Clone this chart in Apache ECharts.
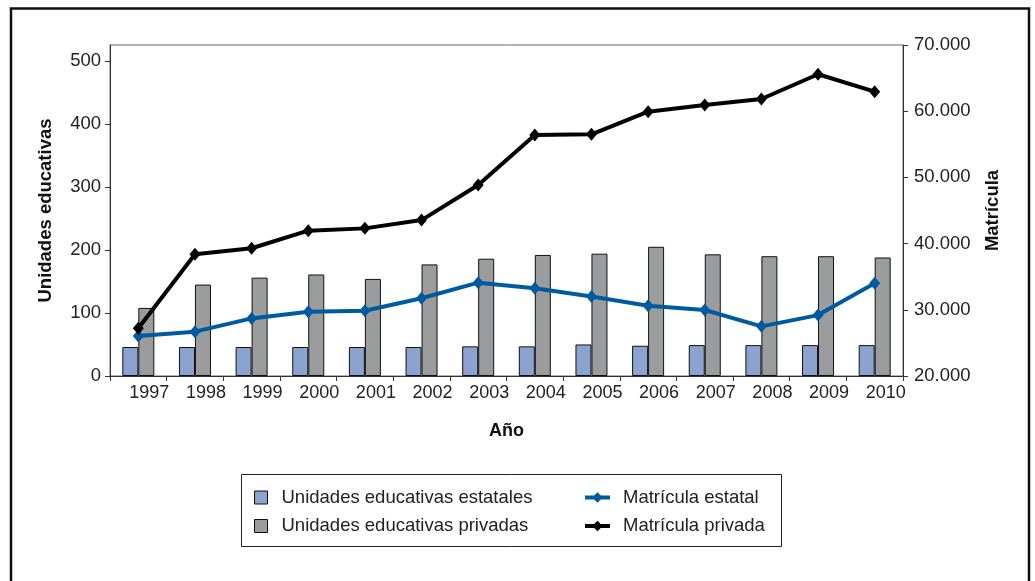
<!DOCTYPE html>
<html>
<head>
<meta charset="utf-8">
<script src="https://cdn.jsdelivr.net/npm/echarts@6/dist/echarts.min.js"></script>
<style>html,body{margin:0;padding:0;background:#fff;}#c{width:1035px;height:581px;}</style>
</head>
<body>
<div id="c"></div>
<script>
var years = ['1997','1998','1999','2000','2001','2002','2003','2004','2005','2006','2007','2008','2009','2010'];
var unidadesEstatales = [46, 46, 46, 46, 46, 46, 47, 47, 50, 48, 49, 49, 49, 49];
var unidadesPrivadas = [108, 145, 156, 161, 154, 177, 186, 192, 194, 205, 193, 190, 190, 188];
var matriculaEstatal = [26050, 26700, 28700, 29700, 29850, 31750, 34100, 33250, 32000, 30620, 29970, 27500, 29200, 34000];
var matriculaPrivada = [27200, 38400, 39300, 41950, 42300, 43550, 48850, 56400, 56500, 59930, 60940, 61840, 65580, 62950];
var leftTicks = [0, 100, 200, 300, 400, 500];
var rightTicks = [20000, 30000, 40000, 50000, 60000, 70000];

function dotThousands(v){ return String(v).replace(/\B(?=(\d{3})+(?!\d))/g, '.'); }

var chart = echarts.init(document.getElementById('c'), null, {renderer:'canvas'});
var font = 'Liberation Sans, Arial, sans-serif';
var option = {
  animation: false,
  backgroundColor: '#fff',
  textStyle: {fontFamily: font},
  grid: {left: 110, right: 132, top: 45, bottom: 205, show: true, borderColor: '#666', borderWidth: 1},
  graphic: [
    {type:'rect', shape:{x:11, y:8.5, width:1018, height:600}, style:{fill:'none', stroke:'#111', lineWidth:2.5}, z: -1},
    {type:'rect', shape:{x:241.5, y:474.5, width:540, height:72}, style:{fill:'none', stroke:'#222', lineWidth:1}}
  ],
  legend: [
    {orient:'vertical', left:254, top:488, padding:0, itemGap:9.5, itemWidth:13, itemHeight:13, icon:'rect',
     itemStyle:{borderColor:'#111', borderWidth:1},
     textStyle:{fontSize:18.5, color:'#222', fontFamily:font, padding:[0,0,0,9]},
     data:['Unidades educativas estatales','Unidades educativas privadas']},
    {orient:'vertical', left:583, top:488, padding:0, itemGap:9.5, itemWidth:25, itemHeight:13,
     lineStyle:{width:4},
     textStyle:{fontSize:18.5, color:'#222', fontFamily:font, padding:[0,0,0,8]},
     data:['Matrícula estatal','Matrícula privada']}
  ],
  xAxis: {
    type:'category', data: years, boundaryGap: true,
    name:'Año', nameLocation:'middle', nameGap:46,
    nameTextStyle:{fontSize:18, fontWeight:'bold', color:'#111', fontFamily:font},
    axisLine:{lineStyle:{color:'#333'}},
    axisTick:{show:true, alignWithLabel:false, length:5, inside:false, lineStyle:{color:'#333'}},
    axisLabel:{fontSize:18, color:'#222', margin:8, padding:[0,0,0,22], fontFamily:font}
  },
  yAxis: [
    {type:'value', min:0, max:525, interval:100, position:'left',
     name:'Unidades educativas', nameLocation:'middle', nameGap:55, nameRotate:90,
     nameTextStyle:{fontSize:18.5, fontWeight:'bold', color:'#111', fontFamily:font},
     axisLine:{show:true, lineStyle:{color:'#333'}},
     axisTick:{show:true, length:5, lineStyle:{color:'#333'}},
     splitLine:{show:false},
     axisLabel:{fontSize:18.5, color:'#222', margin:9, showMaxLabel:false, fontFamily:font,
       formatter:function(v){ return leftTicks.indexOf(v) >= 0 ? String(v) : ''; }}
    },
    {type:'value', min:20000, max:70000, interval:10000, position:'right',
     name:'Matrícula', nameLocation:'middle', nameGap:80, nameRotate:90,
     nameTextStyle:{fontSize:18.5, fontWeight:'bold', color:'#111', fontFamily:font},
     axisLine:{show:true, lineStyle:{color:'#333'}},
     axisTick:{show:true, length:5, lineStyle:{color:'#333'}},
     splitLine:{show:false},
     axisLabel:{fontSize:18.5, color:'#222', margin:11, fontFamily:font,
       formatter:function(v){ return rightTicks.indexOf(v) >= 0 ? dotThousands(v) : ''; }}
    }
  ],
  series: [
    {name:'Unidades educativas estatales', type:'bar', yAxisIndex:0, data: unidadesEstatales,
     barWidth:16, barGap:'0%',
     itemStyle:{color:'#8BA3CE', borderColor:'#111', borderWidth:1}},
    {name:'Unidades educativas privadas', type:'bar', yAxisIndex:0, data: unidadesPrivadas,
     barWidth:16, barGap:'0%',
     itemStyle:{color:'#9B9C9E', borderColor:'#111', borderWidth:1}},
    {name:'Matrícula estatal', type:'line', yAxisIndex:1, data: matriculaEstatal,
     symbol:'diamond', symbolSize:[11,13], showAllSymbol:true,
     lineStyle:{color:'#005AA0', width:4}, itemStyle:{color:'#005AA0'}, z:5},
    {name:'Matrícula privada', type:'line', yAxisIndex:1, data: matriculaPrivada,
     symbol:'diamond', symbolSize:[11,13], showAllSymbol:true,
     lineStyle:{color:'#000', width:4}, itemStyle:{color:'#000'}, z:6}
  ]
};
chart.setOption(option);
</script>
</body>
</html>
